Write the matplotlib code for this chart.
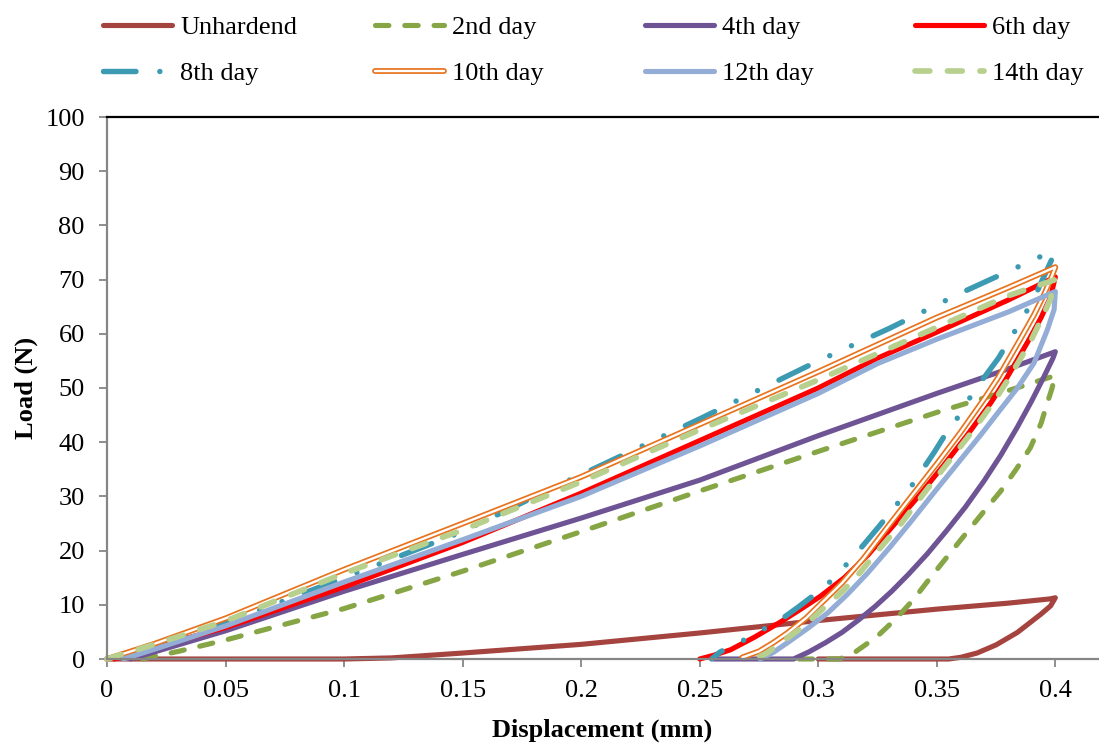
import matplotlib
matplotlib.use('Agg')
import matplotlib.pyplot as plt
import matplotlib.patheffects as pe
from matplotlib.ticker import FuncFormatter

plt.rcParams['font.family'] = ['Liberation Serif', 'DejaVu Serif']

# each series: loading branch followed by unloading branch
# displacement (mm), load (N)
unhard_x = [0, 0.05, 0.1, 0.12, 0.15, 0.2, 0.25, 0.3, 0.35, 0.38, 0.398, 0.4,
            0.398, 0.394, 0.389, 0.384, 0.375, 0.367, 0.36, 0.355, 0.33, 0.3]
unhard_y = [0, 0, 0, 0.2, 1.1, 2.7, 4.8, 7.1, 9.2, 10.3, 11.1, 11.3,
            9.8, 8.3, 6.6, 4.9, 2.6, 1.1, 0.3, 0, 0, 0]

day2_x = [0.015, 0.03, 0.05, 0.1, 0.15, 0.2, 0.25, 0.3, 0.35, 0.38, 0.4,
          0.3985, 0.3966, 0.394, 0.3895, 0.3835, 0.377, 0.37, 0.362, 0.355, 0.3473,
          0.3402, 0.3332, 0.3247, 0.315, 0.309, 0.29]
day2_y = [0, 1.4, 3.5, 9.3, 16.2, 23.5, 31, 38.3, 45.5, 49.5, 52.3,
          49.8, 47.2, 43.5, 39, 35, 31, 27.3, 23, 19.2, 15,
          11, 7.6, 4.1, 1.1, 0, 0]

day4_x = [0.01, 0.03, 0.05, 0.1, 0.15, 0.2, 0.25, 0.3, 0.35, 0.38, 0.4,
          0.399, 0.395, 0.39, 0.384, 0.377, 0.37, 0.362, 0.354, 0.346, 0.338,
          0.331, 0.324, 0.317, 0.31, 0.303, 0.296, 0.2896, 0.256]
day4_y = [0, 2.6, 5.2, 12.5, 19.3, 26, 33, 41.2, 49, 53.5, 56.7,
          55.5, 51.9, 47.6, 42.8, 37.6, 32.9, 28, 23.6, 19.4, 15.6,
          12.5, 9.7, 7.2, 4.9, 3, 1.3, 0, 0]

day6_x = [0.003, 0.02, 0.05, 0.1, 0.15, 0.2, 0.25, 0.3, 0.325, 0.35, 0.38, 0.4,
          0.398, 0.394, 0.389, 0.384, 0.379, 0.373, 0.363, 0.353, 0.343, 0.333,
          0.321, 0.311, 0.301, 0.293, 0.284, 0.273, 0.263, 0.256, 0.25]
day6_y = [0, 2.2, 5.8, 13.3, 21.5, 30.6, 40.3, 50, 55.5, 60.3, 66.2, 70.5,
          66.8, 63, 59, 55.2, 51.5, 47.4, 41.4, 35.8, 30.4, 25.3,
          19.2, 15, 11.6, 9.3, 6.8, 4, 1.7, 0.7, 0]

day8_x = [0, 0.02, 0.05, 0.1, 0.15, 0.19, 0.2, 0.25, 0.3, 0.33, 0.36, 0.38, 0.395, 0.4,
          0.399, 0.392, 0.3865, 0.3814, 0.376, 0.365, 0.3603, 0.354, 0.349, 0.339,
          0.3257, 0.319, 0.307, 0.3, 0.2916, 0.284, 0.267, 0.2586, 0.255]
day8_y = [0, 2.6, 6.6, 15, 23.5, 32, 34, 44.3, 55, 61, 67.5, 71.5, 74.5, 74.8,
          74.2, 67.5, 63, 59.4, 55.5, 49, 45.4, 41.7, 38.2, 31.7,
          24.5, 21, 15, 12.4, 9.6, 7.2, 3.1, 1.3, 0]

day10_x = [0, 0.02, 0.05, 0.1, 0.15, 0.2, 0.25, 0.3, 0.35, 0.38, 0.4,
           0.398, 0.395, 0.391, 0.386, 0.381, 0.376, 0.37, 0.36, 0.35, 0.34,
           0.33, 0.319, 0.31, 0.302, 0.295, 0.287, 0.281, 0.275, 0.268]
day10_y = [0, 2.8, 7.5, 16.5, 25, 33.6, 43.3, 53, 63, 68.5, 72.3,
           70, 67, 63.5, 59.6, 55.8, 52, 48, 41.8, 36, 30.4,
           24.8, 18.5, 14, 10.6, 7.6, 4.8, 3, 1.4, 0.3]

day12_x = [0.007, 0.02, 0.05, 0.1, 0.15, 0.2, 0.25, 0.3, 0.325, 0.35, 0.38, 0.4,
           0.3995, 0.3966, 0.391, 0.384, 0.3768, 0.369, 0.359, 0.349, 0.339,
           0.33, 0.3207, 0.312, 0.304, 0.296, 0.288, 0.281, 0.2755]
day12_y = [0, 1.8, 6.1, 14.2, 22, 30, 39.3, 49, 54.5, 59, 64, 67.8,
           64.5, 60.7, 54.6, 50, 46, 41.6, 36.2, 30.8, 25.3,
           20.5, 15.8, 11.8, 8.5, 5.8, 3.3, 1.2, 0]

day14_x = [0, 0.02, 0.05, 0.1, 0.15, 0.2, 0.25, 0.3, 0.35, 0.38, 0.4,
           0.398, 0.395, 0.39, 0.385, 0.38, 0.374, 0.365, 0.355, 0.345, 0.335,
           0.3262, 0.3177, 0.3107, 0.3023, 0.2937, 0.284, 0.278, 0.273]
day14_y = [0, 2.7, 7, 15.8, 23.8, 32.7, 42.3, 51.5, 61.2, 67, 70,
           66.5, 63.5, 59, 55.2, 51.5, 47.4, 42, 36.4, 30.8, 25,
           20.5, 16, 12.7, 9.4, 6, 2.9, 1, 0]

labels = ['Unhardend', '2nd day', '4th day', '6th day',
          '8th day', '10th day', '12th day', '14th day']
x_ticks = [0, 0.05, 0.1, 0.15, 0.2, 0.25, 0.3, 0.35, 0.4]
y_ticks = [0, 10, 20, 30, 40, 50, 60, 70, 80, 90, 100]

fig = plt.figure(figsize=(10.99, 7.44), dpi=100)
ax = fig.add_axes([107 / 1099, 85 / 744, 991 / 1099, 542 / 744])

dash = (0, (2.6, 3.1))
dashdotdot = (0, (6.0, 4.4, 0.01, 4.4, 0.01, 4.4))
lw = 3.7

h = []
h += ax.plot(unhard_x, unhard_y, color='#A5433F', lw=lw)
h += ax.plot(day2_x, day2_y, color='#86A544', lw=lw, ls=dash, dash_capstyle='round')
h += ax.plot(day4_x, day4_y, color='#6E5494', lw=lw)
h += ax.plot(day6_x, day6_y, color='#FF0000', lw=lw)
h += ax.plot(day8_x, day8_y, color='#3C9AB2', lw=3.9, ls=dashdotdot, dash_capstyle='round')
h += ax.plot(day10_x, day10_y, color='white', lw=1.7,
             path_effects=[pe.Stroke(linewidth=4.2, foreground='#E8731E'), pe.Normal()])
h += ax.plot(day12_x, day12_y, color='#93ADD6', lw=lw)
h += ax.plot(day14_x, day14_y, color='#B8D08E', lw=4.1, ls=dash, dash_capstyle='round')

for line in h:
    line.set_clip_on(False)
    line.set_solid_capstyle('round')
    line.set_solid_joinstyle('round')
    line.set_dash_joinstyle('round')

ax.set_xlim(0, 0.418)
ax.set_ylim(0, 100)
ax.set_xticks(x_ticks)
ax.set_yticks(y_ticks)
ax.xaxis.set_major_formatter(FuncFormatter(lambda v, p: '%g' % v))

for s in ['left', 'bottom']:
    ax.spines[s].set_color('#868686')
    ax.spines[s].set_linewidth(1.6)
ax.spines['right'].set_visible(False)
ax.spines['top'].set_color('black')
ax.spines['top'].set_linewidth(1.6)
ax.tick_params(direction='out', length=6, width=1.3, color='#868686', labelsize=19)
ax.tick_params(axis='y', pad=10)
ax.tick_params(axis='x', pad=9)

ax.set_xlabel('Displacement (mm)', fontsize=19, fontweight='bold')
ax.set_ylabel('Load (N)', fontsize=19, fontweight='bold')
ax.xaxis.set_label_coords(0.5, -0.11)
ax.yaxis.set_label_coords(-0.07, 0.5)

# legend laid out like the Excel one: four evenly spaced columns
col_x = [103, 375, 645, 915]
for i in range(4):
    fig.legend([h[i], h[i + 4]], [labels[i], labels[i + 4]],
               loc='upper left', bbox_to_anchor=(col_x[i] / 1099, 1 - 16 / 744),
               frameon=False, fontsize=19, handlelength=2.62, handletextpad=0.3,
               labelspacing=0.84, borderpad=0, borderaxespad=0)

fig.savefig('out.png', dpi=100)
